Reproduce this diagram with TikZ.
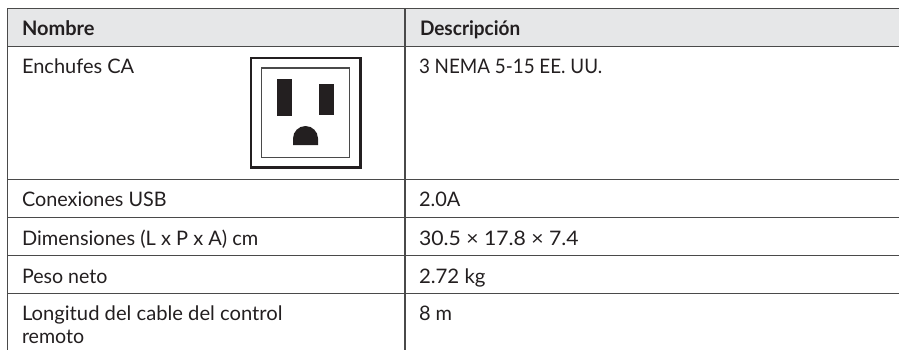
\documentclass[tikz,border=0pt]{standalone}
\usepackage{fontspec}
\setmainfont{Lato}
\definecolor{hdr}{HTML}{E6E7E8}
\definecolor{rule}{HTML}{4A4A4A}
\definecolor{ink}{HTML}{231F20}
\newcommand{\sqz}[2]{\scalebox{#1}[1]{#2}}
\tikzset{
  cell/.style={anchor=base west,inner sep=0pt,outer sep=0pt,text=ink,font=\fontsize{15}{17}\selectfont},
  head/.style={cell,font=\fontsize{15}{17}\selectfont\bfseries},
  rowline/.style={draw=rule,line width=0.75pt},
  colline/.style={draw=rule,line width=0.8pt}
}
\begin{document}
\begin{tikzpicture}[x=0.75pt,y=-0.75pt]
\useasboundingbox (0,0) rectangle (899,350);
\fill[hdr] (7.5,8) rectangle (899,46);
\draw[rowline] (7.5,8) -- (899,8);
\draw[rowline] (7.5,46) -- (899,46);
\draw[rowline] (7.5,179.2) -- (899,179.2);
\draw[rowline] (7.5,217) -- (899,217);
\draw[rowline] (7.5,255.5) -- (899,255.5);
\draw[rowline] (7.5,293) -- (899,293);
\draw[colline] (7.5,8) -- (7.5,350);
\draw[colline] (405,8) -- (405,350);
\node[head] (h1) at (22,35.5) {\sqz{1.0}{Nombre}};
\node[head] (h2) at (420,35.5) {\sqz{0.95}{Descripción}};
\node[cell] (a1) at (22,73) {\sqz{1.0}{Enchufes CA}};
\node[cell] (b1) at (419,73) {\sqz{0.94}{3 NEMA 5-15 EE. UU.}};
\node[cell] (a2) at (22,206) {\sqz{0.99}{Conexiones USB}};
\node[cell] (b2) at (419,206) {\sqz{1.0}{2.0A}};
\node[cell] (a3) at (22,245) {\sqz{1.0}{Dimensiones (L x P x A) cm}};
\node[cell] (b3) at (419,245) {\sqz{1.06}{30.5 × 17.8 × 7.4}};
\node[cell] (a4) at (22,283) {\sqz{0.98}{Peso neto}};
\node[cell] (b4) at (419,283) {\sqz{1.02}{2.72 kg}};
\node[cell] (a5) at (22,320.7) {\sqz{1.01}{Longitud del cable del control}};
\node[cell] (a6) at (22,343) {\sqz{0.98}{remoto}};
\node[cell] (b5) at (419,320.7) {\sqz{1.0}{8 m}};
% outlet
\draw[ink,line width=1.9pt] (251,58) rectangle (360.5,167.5);
\draw[rule,line width=1pt] (261.5,68) rectangle (349.5,157.5);
\fill[ink] (277,79) rectangle (292,116);
\fill[ink] (319,84) rectangle (334,115);
\fill[ink] (293,145) -- (293,138.5) arc[start angle=180,end angle=360,radius=12.5] -- (318,145) -- cycle;
\end{tikzpicture}
\end{document}
